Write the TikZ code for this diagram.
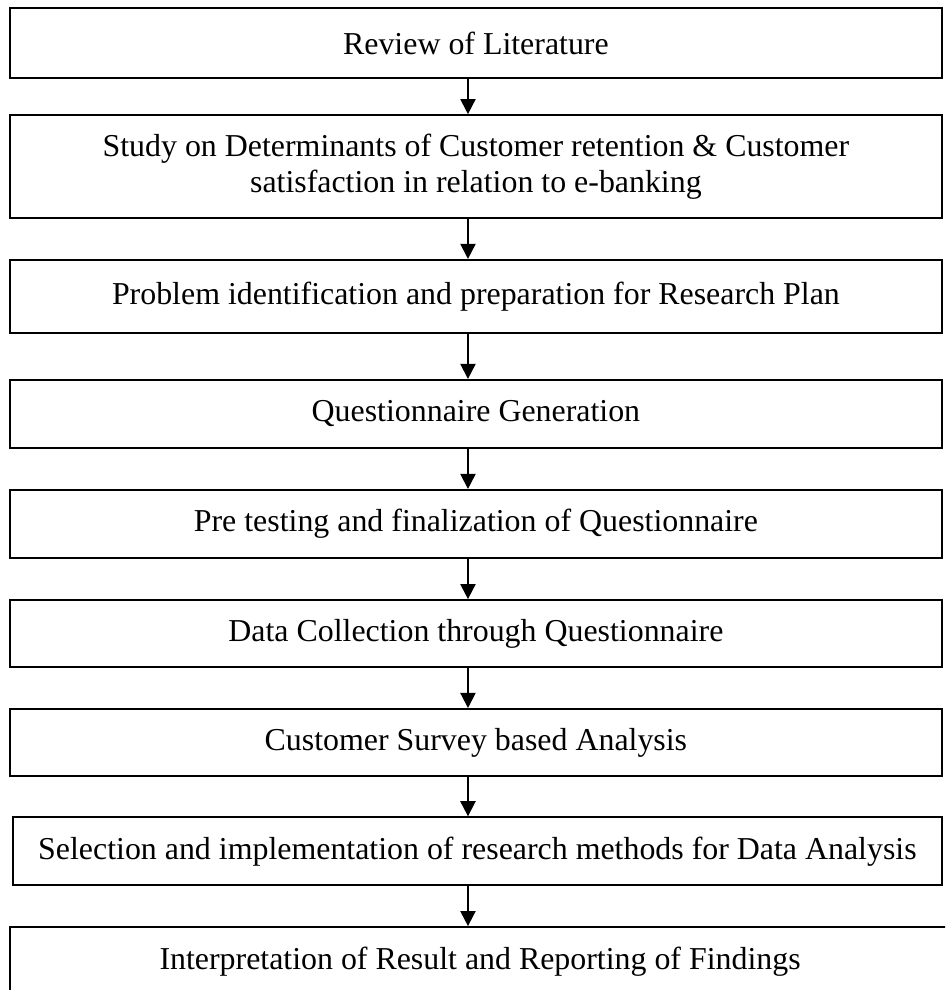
\documentclass[tikz,border=0pt]{standalone}
\usepackage{fontspec}
\setmainfont{Liberation Serif}
\usetikzlibrary{arrows.meta}

\begin{document}
\begin{tikzpicture}[>={Triangle[length=4mm,width=4mm]},stage/.style={rectangle,draw,line width=1.4pt,minimum width=24.66cm,minimum height=1.8cm,inner sep=0pt,align=center,font=\fontsize{24}{27.5}\selectfont},flow/.style={->,line width=1.4pt}]
\useasboundingbox (0,0) rectangle (25.0,-26.19);
\clip (0,0) rectangle (25.0,-26.19);
\coordinate (col) at (12.38,0);
\node[stage,minimum height=1.85cm] (lit) at (12.59,-1.14) {Review of Literature};
\node[stage,minimum height=2.73cm] (study) at (12.59,-4.41) {Study on Determinants of Customer retention \& Customer\\satisfaction in relation to e-banking};
\node[stage,minimum height=1.93cm] (problem) at (12.59,-7.84) {Problem identification and preparation for Research Plan};
\node[stage] (quest) at (12.59,-10.95) {Questionnaire Generation};
\node[stage] (pretest) at (12.59,-13.86) {Pre testing and finalization of Questionnaire};
\node[stage,minimum height=1.77cm] (collect) at (12.59,-16.76) {Data Collection through Questionnaire};
\node[stage,minimum height=1.77cm] (survey) at (12.59,-19.64) {Customer Survey based Analysis};
\node[stage,minimum width=24.58cm] (methods) at (12.63,-22.52) {Selection and implementation of research methods for Data Analysis};
\node[stage,minimum width=24.87cm,minimum height=1.85cm] (report) at (12.70,-25.45) {Interpretation of Result and Reporting of Findings};
\draw[flow] (lit.south -| col)--(study.north -| col);
\draw[flow] (study.south -| col)--(problem.north -| col);
\draw[flow] (problem.south -| col)--(quest.north -| col);
\draw[flow] (quest.south -| col)--(pretest.north -| col);
\draw[flow] (pretest.south -| col)--(collect.north -| col);
\draw[flow] (collect.south -| col)--(survey.north -| col);
\draw[flow] (survey.south -| col)--(methods.north -| col);
\draw[flow] (methods.south -| col)--(report.north -| col);
\end{tikzpicture}
\end{document}
